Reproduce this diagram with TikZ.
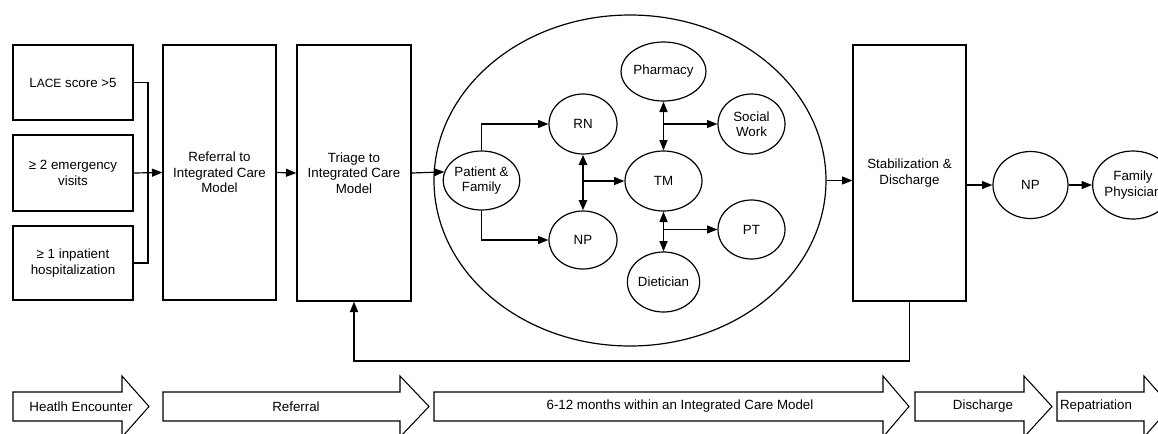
\documentclass[tikz,border=0pt]{standalone}
\usepackage{fontspec}
\setmainfont{Liberation Sans}
\usetikzlibrary{arrows.meta,shapes.geometric}
\newcommand\flowarrow[6]{%
  \draw[flowshape] (#1,392) -- (#2,392) -- (#2,376) -- (#3,406.5) -- (#2,437) -- (#2,421) -- (#1,421) -- cycle;
  \node[flowtext] (#6) at (#4,406.5) {#5};}
\begin{document}
\begin{tikzpicture}[x=0.75pt,y=-0.75pt,
  font=\fontsize{10}{11.6}\selectfont,
  box/.style={draw,line width=0.9pt,inner sep=2pt,align=center},
  ell/.style={draw,ellipse,line width=0.9pt,inner sep=0pt,align=center},
  arr/.style={-{Triangle[length=7.8pt,width=6pt]},line width=0.9pt},
  dbl/.style={{Triangle[length=7.8pt,width=6pt]}-{Triangle[length=7.8pt,width=6pt]},line width=1.2pt},
  flowshape/.style={draw,line width=0.8pt,line join=miter},
  flowtext/.style={inner sep=0pt}]
\useasboundingbox (0,0) rectangle (1158,433);
\clip (0,0) rectangle (1158,433);

% left boxes
\node[box,minimum width=90pt,minimum height=56.25pt] (lace) at (73,82.5) {L{\fontsize{9}{10}\selectfont ACE} score >5};
\node[box,minimum width=90pt,minimum height=57pt] (emg) at (73,173) {≥ 2 emergency\\visits};
\node[box,minimum width=90pt,minimum height=55.5pt] (inp) at (73,263) {≥ 1 inpatient\\hospitalization};
\node[box,minimum width=84.75pt,minimum height=191.25pt] (ref) at (219.5,172.5) {Referral to\\Integrated Care\\Model};
\node[box,minimum width=85.5pt,minimum height=192pt] (tri) at (354,173) {Triage to\\Integrated Care\\Model};
\node[box,minimum width=84.75pt,minimum height=192pt] (stab) at (909.5,173) {Stabilization \&\\Discharge};

% big ellipse and team
\node[ell,minimum width=294pt,minimum height=248.25pt] (big) at (630,180.5) {};
\node[ell,minimum width=51.75pt,minimum height=44.25pt] (pf) at (481.5,180.5) {Patient \&\\Family};
\node[ell,minimum width=51pt,minimum height=45pt] (rn) at (583,124) {RN};
\node[ell,minimum width=51pt,minimum height=43.5pt] (np) at (583,240) {NP};
\node[ell,minimum width=57.75pt,minimum height=45pt] (tm) at (663.5,181) {TM};
\node[ell,minimum width=51.75pt,minimum height=44.25pt] (ph) at (663.5,71.5) {Pharmacy};
\node[ell,minimum width=50.25pt,minimum height=45pt] (sw) at (751.5,124) {Social\\Work};
\node[ell,minimum width=50.25pt,minimum height=44.25pt] (pt) at (751.5,229.5) {PT};
\node[ell,minimum width=49.5pt,minimum height=45pt] (di) at (663.5,282) {Dietician};

% right nodes
\node[ell,minimum width=56.25pt,minimum height=50.25pt] (np2) at (1030.5,185) {NP};
\node[ell,minimum width=55.5pt,minimum height=51pt] (fp) at (1133,185) {Family\\Physician};

% left connectors
\coordinate (jn) at (148,173);
\draw[line width=1.4pt] (lace.east) -| (jn) |- (inp.east);
\draw[arr] (emg.east) -- (ref.west);
\draw[arr] (ref.east) -- (tri.west);
\draw[arr] (tri.east) -- (pf.167);

% team connectors
\draw[arr] (pf.north) |- (rn.west);
\draw[arr] (pf.south) |- (np.west);
\draw[dbl,line width=2pt] (rn.south) -- (np.north);
\draw[arr] (rn.south |- tm.west) -- (tm.west);
\draw[dbl] (ph.south) -- (tm.north);
\draw[arr] (ph.south |- sw.west) -- (sw.west);
\draw[dbl] (tm.south) -- (di.north);
\draw[arr] (tm.south |- pt.west) -- (pt.west);

% right connectors
\draw[arr] (big.east) -- (big.east -| stab.west);
\draw[arr] (np2.west -| stab.east) -- (np2.west);
\draw[arr] (np2.east) -- (fp.west);

% feedback
\coordinate (fb) at (909.5,361);
\draw[arr,line width=1.3pt] (stab.south) -- (fb) -| (tri.south);

% bottom phase arrows
\flowarrow{13}{122}{149}{81}{Heatlh Encounter}{ph1}
\flowarrow{163}{400}{429}{296}{Referral}{ph2}
\flowarrow{434}{883}{909}{680}{6-12 months within an Integrated Care Model}{ph3}
\flowarrow{915}{1024}{1052}{983}{Discharge}{ph4}
\flowarrow{1057}{1144}{1171}{1096}{Repatriation}{ph5}
\end{tikzpicture}
\end{document}
